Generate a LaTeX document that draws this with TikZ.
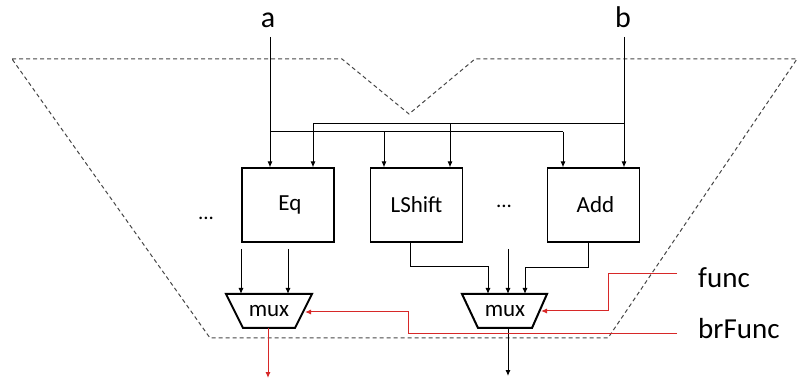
\documentclass[tikz,border=0pt]{standalone}
\usepackage{fontspec}
\setmainfont{Carlito}
\usetikzlibrary{arrows.meta}
\definecolor{sigred}{RGB}{215,40,40}
\definecolor{dashgray}{RGB}{70,70,70}
\tikzset{
  unitbox/.style={draw, line width=1.1pt, minimum width=92pt, minimum height=74pt, inner sep=0pt, font=\fontsize{23}{26}\selectfont},
  wire/.style={line width=1pt, -{Latex[length=6pt,width=5pt]}},
  plainwire/.style={line width=1pt},
  redwire/.style={line width=1pt, draw=sigred, -{Latex[length=6pt,width=5pt]}, color=sigred},
  muxline/.style={line width=2pt, line join=miter},
  muxtext/.style={inner sep=0pt, font=\fontsize{23}{26}\selectfont},
  biglabel/.style={inner sep=0pt, font=\fontsize{30}{34}\selectfont},
  sidelabel/.style={inner sep=0pt, font=\fontsize{29}{33}\selectfont},
  dotslabel/.style={inner sep=0pt, font=\fontsize{21}{24}\selectfont},
  boundary/.style={draw=dashgray, line width=1pt, dash pattern=on 4pt off 3pt}
}
\begin{document}
\begin{tikzpicture}[x=1pt,y=-1pt]
\useasboundingbox (0,0) rectangle (798,379);
% dashed outline
\draw[boundary] (12,59) -- (342,59) -- (409,114) -- (475,59) -- (797,59) -- (608,338) -- (210,338) -- cycle;

% labels
\node[biglabel, anchor=base] (a) at (268,28) {a};
\node[biglabel, anchor=base] (b) at (623,28) {b};
\node[sidelabel, anchor=base west] (func) at (698,288) {func};
\node[sidelabel, anchor=base west] (brfunc) at (698,339) {brFunc};
\node[dotslabel, anchor=base] (dotsL) at (206,220) {...};
\node[dotslabel, anchor=base] (dotsR) at (504,208) {...};

% units
\node[unitbox] (eq) at (288,205) {\raisebox{-2pt}{\,Eq}};
\node[unitbox] (lshift) at (416.5,205) {\raisebox{-2pt}{LShift}};
\node[unitbox] (add) at (593.5,205) {\raisebox{-2pt}{\,Add}};

% mux shapes
\draw[muxline] (226,294) -- (312,294) -- (295,328) -- (243,328) -- cycle;
\draw[muxline] (462,294) -- (547,294) -- (532,328) -- (478,328) -- cycle;
\node[muxtext] (muxL) at (269,311) {mux};
\node[muxtext] (muxR) at (505,311) {mux};

% coordinates
\coordinate (aT) at (270,37);
\coordinate (bT) at (624,37);
\coordinate (aJ) at (270,132);
\coordinate (bJ) at (624,124);
\coordinate (inL1) at (241,249);
\coordinate (inL2) at (288,249);
\coordinate (inR2) at (508,249);
\coordinate (outL) at (268,378);
\coordinate (outR) at (508,376);

% a input and bus
\draw[wire] (aT) -- (eq.north -| aT);
\draw[plainwire] (aJ) -- (563,132);
\draw[wire] (384,132) -- (lshift.north -| 384,0);
\draw[wire] (563,132) -- (add.north -| 563,0);
% b input and bus
\draw[wire] (bT) -- (add.north -| bT);
\draw[plainwire] (bJ) -- (313,124);
\draw[wire] (313,124) -- (eq.north -| 313,0);
\draw[wire] (450,124) -- (lshift.north -| 450,0);

% mux inputs
\draw[wire] (inL1) -- (241,294);
\draw[wire] (inL2) -- (288,294);
\draw[wire] (inR2) -- (508,294);
\draw[wire] (lshift.south -| 410,0) -- (410,267) -- (488,267) -- (488,294);
\draw[wire] (add.south -| 588,0) -- (588,268) -- (525,268) -- (525,294);

% outputs
\draw[redwire] (268,328) -- (outL);
\draw[wire] (508,328) -- (outR);

% control lines
\draw[redwire] (func.west |- 0,274) ++(-21,0) -- (608,274) -- (608,311) -- (541,311);
\draw[redwire] (brfunc.west |- 0,334) ++(-21,0) -- (408,334) -- (408,312) -- (305,312);
\end{tikzpicture}
\end{document}
